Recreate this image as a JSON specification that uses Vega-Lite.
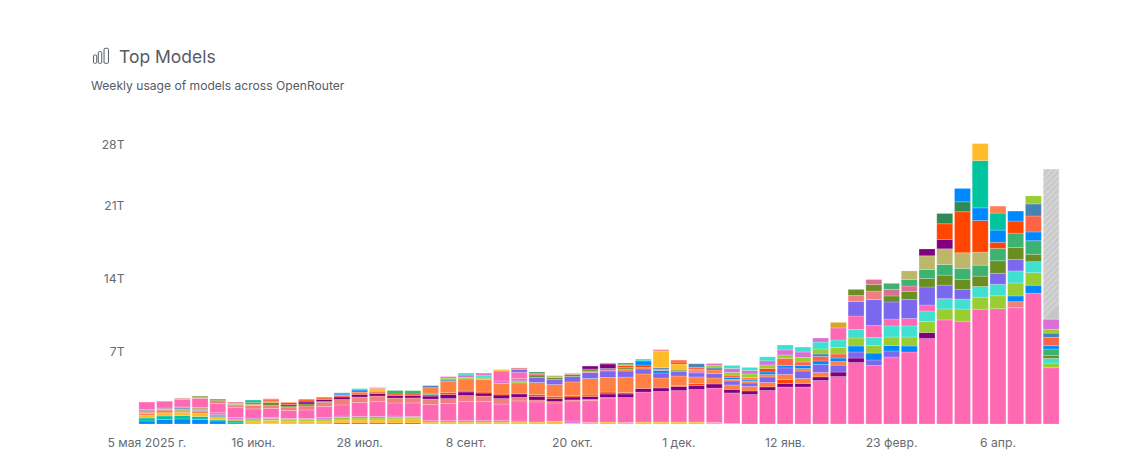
{"$schema":"https://vega.github.io/schema/vega-lite/v6.json","background":"white","autosize":{"type":"none"},"padding":{"left":138,"top":144,"right":79,"bottom":36},"width":922,"height":280,
"title":{"text":"Top Models","subtitle":"Weekly usage of models across OpenRouter","anchor":"start","frame":"group","dx":-47,"offset":-46,"font":"Inter","fontSize":17.5,"fontWeight":400,"color":"#565b66","subtitleFont":"Inter","subtitleFontSize":12.1,"subtitleColor":"#565b66","subtitlePadding":14,"encoding":{"dx":{"value":-19}}},
"config":{"view":{"stroke":null}},
"data":{"values":[
{"w":"5 мая 2025 г.","m":"blue","s":1,"v":0.29},{"w":"5 мая 2025 г.","m":"teal","s":2,"v":0.29},{"w":"5 мая 2025 г.","m":"gold","s":3,"v":0.24},{"w":"5 мая 2025 г.","m":"coral","s":4,"v":0.19},{"w":"5 мая 2025 г.","m":"lightcoral","s":5,"v":0.14},{"w":"5 мая 2025 г.","m":"gray","s":6,"v":0.24},{"w":"5 мая 2025 г.","m":"hotpink","s":7,"v":0.72},
{"w":"12 мая","m":"blue","s":1,"v":0.43},{"w":"12 мая","m":"teal","s":2,"v":0.34},{"w":"12 мая","m":"gold","s":3,"v":0.29},{"w":"12 мая","m":"coral","s":4,"v":0.1},{"w":"12 мая","m":"olive","s":5,"v":0.1},{"w":"12 мая","m":"lightcoral","s":6,"v":0.14},{"w":"12 мая","m":"gray","s":7,"v":0.14},{"w":"12 мая","m":"hotpink","s":8,"v":0.65},
{"w":"19 мая","m":"blue","s":1,"v":0.48},{"w":"19 мая","m":"teal","s":2,"v":0.34},{"w":"19 мая","m":"gold","s":3,"v":0.29},{"w":"19 мая","m":"coral","s":4,"v":0.14},{"w":"19 мая","m":"khaki","s":5,"v":0.19},{"w":"19 мая","m":"steelblue","s":6,"v":0.1},{"w":"19 мая","m":"gray","s":7,"v":0.1},{"w":"19 мая","m":"hotpink","s":8,"v":0.72},{"w":"19 мая","m":"lightcoral","s":9,"v":0.12},
{"w":"26 мая","m":"blue","s":1,"v":0.43},{"w":"26 мая","m":"teal","s":2,"v":0.29},{"w":"26 мая","m":"gold","s":3,"v":0.29},{"w":"26 мая","m":"coral","s":4,"v":0.19},{"w":"26 мая","m":"steelblue","s":5,"v":0.1},{"w":"26 мая","m":"slate","s":6,"v":0.05},{"w":"26 мая","m":"khaki","s":7,"v":0.24},{"w":"26 мая","m":"hotpink","s":8,"v":0.87},{"w":"26 мая","m":"lightcoral","s":9,"v":0.12},{"w":"26 мая","m":"olive","s":10,"v":0.1},
{"w":"2 июн.","m":"blue","s":1,"v":0.29},{"w":"2 июн.","m":"teal","s":2,"v":0.12},{"w":"2 июн.","m":"gold","s":3,"v":0.29},{"w":"2 июн.","m":"steelblue","s":4,"v":0.1},{"w":"2 июн.","m":"olive","s":5,"v":0.1},{"w":"2 июн.","m":"orchid","s":6,"v":0.19},{"w":"2 июн.","m":"hotpink","s":7,"v":0.87},{"w":"2 июн.","m":"lightcoral","s":8,"v":0.29},{"w":"2 июн.","m":"olive","s":9,"v":0.14},
{"w":"9 июн.","m":"teal","s":1,"v":0.19},{"w":"9 июн.","m":"seagreen","s":2,"v":0.1},{"w":"9 июн.","m":"khaki","s":3,"v":0.19},{"w":"9 июн.","m":"orchid","s":4,"v":0.14},{"w":"9 июн.","m":"hotpink","s":5,"v":0.96},{"w":"9 июн.","m":"lightcoral","s":6,"v":0.19},{"w":"9 июн.","m":"olive","s":7,"v":0.1},{"w":"9 июн.","m":"khaki","s":8,"v":0.14},{"w":"9 июн.","m":"palevioletred","s":9,"v":0.1},
{"w":"16 июн.","m":"gold","s":1,"v":0.29},{"w":"16 июн.","m":"yellowgreen","s":2,"v":0.19},{"w":"16 июн.","m":"orchid","s":3,"v":0.1},{"w":"16 июн.","m":"hotpink","s":4,"v":0.87},{"w":"16 июн.","m":"lightcoral","s":5,"v":0.34},{"w":"16 июн.","m":"khaki","s":6,"v":0.14},{"w":"16 июн.","m":"olive","s":7,"v":0.14},{"w":"16 июн.","m":"seagreen","s":8,"v":0.14},{"w":"16 июн.","m":"teal","s":9,"v":0.1},
{"w":"23 июн.","m":"seagreen","s":1,"v":0.05},{"w":"23 июн.","m":"gold","s":2,"v":0.29},{"w":"23 июн.","m":"yellowgreen","s":3,"v":0.19},{"w":"23 июн.","m":"orchid","s":4,"v":0.1},{"w":"23 июн.","m":"hotpink","s":5,"v":0.87},{"w":"23 июн.","m":"lightcoral","s":6,"v":0.29},{"w":"23 июн.","m":"olive","s":7,"v":0.29},{"w":"23 июн.","m":"lightcoral","s":8,"v":0.14},{"w":"23 июн.","m":"orangered","s":9,"v":0.1},{"w":"23 июн.","m":"coral","s":10,"v":0.1},
{"w":"30 июн.","m":"gold","s":1,"v":0.29},{"w":"30 июн.","m":"yellowgreen","s":2,"v":0.14},{"w":"30 июн.","m":"orchid","s":3,"v":0.1},{"w":"30 июн.","m":"hotpink","s":4,"v":0.77},{"w":"30 июн.","m":"lightcoral","s":5,"v":0.34},{"w":"30 июн.","m":"olive","s":6,"v":0.1},{"w":"30 июн.","m":"purple","s":7,"v":0.14},{"w":"30 июн.","m":"orangered","s":8,"v":0.19},
{"w":"7 июл.","m":"gold","s":1,"v":0.29},{"w":"7 июл.","m":"yellowgreen","s":2,"v":0.14},{"w":"7 июл.","m":"orchid","s":3,"v":0.1},{"w":"7 июл.","m":"hotpink","s":4,"v":0.82},{"w":"7 июл.","m":"lightcoral","s":5,"v":0.39},{"w":"7 июл.","m":"olive","s":6,"v":0.19},{"w":"7 июл.","m":"purple","s":7,"v":0.19},{"w":"7 июл.","m":"orangered","s":8,"v":0.19},{"w":"7 июл.","m":"coral","s":9,"v":0.1},
{"w":"14 июл.","m":"gold","s":1,"v":0.29},{"w":"14 июл.","m":"yellowgreen","s":2,"v":0.19},{"w":"14 июл.","m":"orchid","s":3,"v":0.14},{"w":"14 июл.","m":"hotpink","s":4,"v":1.06},{"w":"14 июл.","m":"lightcoral","s":5,"v":0.39},{"w":"14 июл.","m":"olive","s":6,"v":0.1},{"w":"14 июл.","m":"purple","s":7,"v":0.19},{"w":"14 июл.","m":"orangered","s":8,"v":0.14},{"w":"14 июл.","m":"coral","s":9,"v":0.1},
{"w":"21 июл.","m":"seagreen","s":1,"v":0.1},{"w":"21 июл.","m":"gold","s":2,"v":0.29},{"w":"21 июл.","m":"yellowgreen","s":3,"v":0.24},{"w":"21 июл.","m":"orchid","s":4,"v":0.14},{"w":"21 июл.","m":"hotpink","s":5,"v":1.06},{"w":"21 июл.","m":"lightcoral","s":6,"v":0.53},{"w":"21 июл.","m":"purple","s":7,"v":0.24},{"w":"21 июл.","m":"orangered","s":8,"v":0.1},{"w":"21 июл.","m":"coral","s":9,"v":0.1},{"w":"21 июл.","m":"blue","s":10,"v":0.1},{"w":"21 июл.","m":"steelblue","s":11,"v":0.1},
{"w":"28 июл.","m":"seagreen","s":1,"v":0.1},{"w":"28 июл.","m":"gold","s":2,"v":0.29},{"w":"28 июл.","m":"yellowgreen","s":3,"v":0.19},{"w":"28 июл.","m":"orchid","s":4,"v":0.14},{"w":"28 июл.","m":"hotpink","s":5,"v":1.35},{"w":"28 июл.","m":"lightcoral","s":6,"v":0.53},{"w":"28 июл.","m":"purple","s":7,"v":0.24},{"w":"28 июл.","m":"orangered","s":8,"v":0.14},{"w":"28 июл.","m":"coral","s":9,"v":0.1},{"w":"28 июл.","m":"blue","s":10,"v":0.19},{"w":"28 июл.","m":"turquoise","s":11,"v":0.14},
{"w":"4 авг.","m":"seagreen","s":1,"v":0.1},{"w":"4 авг.","m":"gold","s":2,"v":0.29},{"w":"4 авг.","m":"yellowgreen","s":3,"v":0.19},{"w":"4 авг.","m":"orchid","s":4,"v":0.14},{"w":"4 авг.","m":"hotpink","s":5,"v":1.44},{"w":"4 авг.","m":"lightcoral","s":6,"v":0.53},{"w":"4 авг.","m":"purple","s":7,"v":0.24},{"w":"4 авг.","m":"orangered","s":8,"v":0.14},{"w":"4 авг.","m":"coral","s":9,"v":0.1},{"w":"4 авг.","m":"gold","s":10,"v":0.24},{"w":"4 авг.","m":"lightcoral","s":11,"v":0.1},
{"w":"11 авг.","m":"seagreen","s":1,"v":0.1},{"w":"11 авг.","m":"gold","s":2,"v":0.39},{"w":"11 авг.","m":"yellowgreen","s":3,"v":0.14},{"w":"11 авг.","m":"orchid","s":4,"v":0.14},{"w":"11 авг.","m":"hotpink","s":5,"v":1.25},{"w":"11 авг.","m":"lightcoral","s":6,"v":0.48},{"w":"11 авг.","m":"purple","s":7,"v":0.24},{"w":"11 авг.","m":"orangered","s":8,"v":0.14},{"w":"11 авг.","m":"mseagreen","s":9,"v":0.34},
{"w":"18 авг.","m":"seagreen","s":1,"v":0.1},{"w":"18 авг.","m":"gold","s":2,"v":0.39},{"w":"18 авг.","m":"yellowgreen","s":3,"v":0.14},{"w":"18 авг.","m":"orchid","s":4,"v":0.1},{"w":"18 авг.","m":"hotpink","s":5,"v":1.3},{"w":"18 авг.","m":"lightcoral","s":6,"v":0.48},{"w":"18 авг.","m":"purple","s":7,"v":0.24},{"w":"18 авг.","m":"orangered","s":8,"v":0.14},{"w":"18 авг.","m":"mseagreen","s":9,"v":0.32},
{"w":"25 авг.","m":"gold","s":1,"v":0.19},{"w":"25 авг.","m":"orchid","s":2,"v":0.14},{"w":"25 авг.","m":"hotpink","s":3,"v":1.54},{"w":"25 авг.","m":"lightcoral","s":4,"v":0.53},{"w":"25 авг.","m":"purple","s":5,"v":0.29},{"w":"25 авг.","m":"orangered","s":6,"v":0.14},{"w":"25 авг.","m":"mseagreen","s":7,"v":0.14},{"w":"25 авг.","m":"coral","s":8,"v":0.53},{"w":"25 авг.","m":"steelblue","s":9,"v":0.19},
{"w":"1 сент.","m":"gold","s":1,"v":0.19},{"w":"1 сент.","m":"orchid","s":2,"v":0.14},{"w":"1 сент.","m":"hotpink","s":3,"v":1.64},{"w":"1 сент.","m":"lightcoral","s":4,"v":0.48},{"w":"1 сент.","m":"purple","s":5,"v":0.39},{"w":"1 сент.","m":"orangered","s":6,"v":0.19},{"w":"1 сент.","m":"coral","s":7,"v":1.06},{"w":"1 сент.","m":"steelblue","s":8,"v":0.14},{"w":"1 сент.","m":"yellowgreen","s":9,"v":0.19},{"w":"1 сент.","m":"orchid","s":10,"v":0.14},
{"w":"8 сент.","m":"gold","s":1,"v":0.19},{"w":"8 сент.","m":"orchid","s":2,"v":0.14},{"w":"8 сент.","m":"hotpink","s":3,"v":1.83},{"w":"8 сент.","m":"lightcoral","s":4,"v":0.58},{"w":"8 сент.","m":"purple","s":5,"v":0.34},{"w":"8 сент.","m":"orangered","s":6,"v":0.1},{"w":"8 сент.","m":"coral","s":7,"v":1.16},{"w":"8 сент.","m":"yellowgreen","s":8,"v":0.14},{"w":"8 сент.","m":"orchid","s":9,"v":0.24},{"w":"8 сент.","m":"turquoise","s":10,"v":0.19},
{"w":"15 сент.","m":"gold","s":1,"v":0.19},{"w":"15 сент.","m":"orchid","s":2,"v":0.14},{"w":"15 сент.","m":"hotpink","s":3,"v":1.83},{"w":"15 сент.","m":"lightcoral","s":4,"v":0.53},{"w":"15 сент.","m":"purple","s":5,"v":0.29},{"w":"15 сент.","m":"orangered","s":6,"v":0.1},{"w":"15 сент.","m":"coral","s":7,"v":1.2},{"w":"15 сент.","m":"yellowgreen","s":8,"v":0.14},{"w":"15 сент.","m":"orchid","s":9,"v":0.1},{"w":"15 сент.","m":"turquoise","s":10,"v":0.19},{"w":"15 сент.","m":"orchid","s":11,"v":0.19},
{"w":"22 сент.","m":"gold","s":1,"v":0.19},{"w":"22 сент.","m":"orchid","s":2,"v":0.14},{"w":"22 сент.","m":"hotpink","s":3,"v":1.59},{"w":"22 сент.","m":"lightcoral","s":4,"v":0.53},{"w":"22 сент.","m":"purple","s":5,"v":0.34},{"w":"22 сент.","m":"orangered","s":6,"v":0.1},{"w":"22 сент.","m":"coral","s":7,"v":1.01},{"w":"22 сент.","m":"orchid","s":8,"v":0.24},{"w":"22 сент.","m":"hotpink","s":9,"v":0.96},{"w":"22 сент.","m":"gold","s":10,"v":0.14},
{"w":"29 сент.","m":"gold","s":1,"v":0.19},{"w":"29 сент.","m":"orchid","s":2,"v":0.1},{"w":"29 сент.","m":"hotpink","s":3,"v":1.93},{"w":"29 сент.","m":"lightcoral","s":4,"v":0.34},{"w":"29 сент.","m":"purple","s":5,"v":0.34},{"w":"29 сент.","m":"coral","s":6,"v":1.06},{"w":"29 сент.","m":"yellowgreen","s":7,"v":0.19},{"w":"29 сент.","m":"orchid","s":8,"v":0.24},{"w":"29 сент.","m":"hotpink","s":9,"v":0.58},{"w":"29 сент.","m":"slate","s":10,"v":0.29},{"w":"29 сент.","m":"lightcoral","s":11,"v":0.14},
{"w":"6 окт.","m":"gold","s":1,"v":0.19},{"w":"6 окт.","m":"hotpink","s":2,"v":1.93},{"w":"6 окт.","m":"lightcoral","s":3,"v":0.19},{"w":"6 окт.","m":"purple","s":4,"v":0.34},{"w":"6 окт.","m":"orangered","s":5,"v":0.19},{"w":"6 окт.","m":"coral","s":6,"v":1.16},{"w":"6 окт.","m":"slate","s":7,"v":0.48},{"w":"6 окт.","m":"olive","s":8,"v":0.24},{"w":"6 окт.","m":"lightcoral","s":9,"v":0.19},{"w":"6 окт.","m":"seagreen","s":10,"v":0.1},
{"w":"13 окт.","m":"gold","s":1,"v":0.24},{"w":"13 окт.","m":"hotpink","s":2,"v":1.78},{"w":"13 окт.","m":"lightcoral","s":3,"v":0.14},{"w":"13 окт.","m":"purple","s":4,"v":0.29},{"w":"13 окт.","m":"orangered","s":5,"v":0.19},{"w":"13 окт.","m":"coral","s":6,"v":1.16},{"w":"13 окт.","m":"slate","s":7,"v":0.48},{"w":"13 окт.","m":"olive","s":8,"v":0.19},{"w":"13 окт.","m":"khaki","s":9,"v":0.19},
{"w":"20 окт.","m":"gold","s":1,"v":0.1},{"w":"20 окт.","m":"orchid","s":2,"v":0.19},{"w":"20 окт.","m":"hotpink","s":3,"v":1.93},{"w":"20 окт.","m":"lightcoral","s":4,"v":0.1},{"w":"20 окт.","m":"purple","s":5,"v":0.29},{"w":"20 окт.","m":"orangered","s":6,"v":0.14},{"w":"20 окт.","m":"coral","s":7,"v":1.3},{"w":"20 окт.","m":"slate","s":8,"v":0.53},{"w":"20 окт.","m":"olive","s":9,"v":0.19},{"w":"20 окт.","m":"lightcoral","s":10,"v":0.1},
{"w":"27 окт.","m":"gold","s":1,"v":0.14},{"w":"27 окт.","m":"hotpink","s":2,"v":2.12},{"w":"27 окт.","m":"lightcoral","s":3,"v":0.1},{"w":"27 окт.","m":"purple","s":4,"v":0.29},{"w":"27 окт.","m":"orangered","s":5,"v":0.14},{"w":"27 окт.","m":"coral","s":6,"v":1.59},{"w":"27 окт.","m":"slate","s":7,"v":0.58},{"w":"27 окт.","m":"lightcoral","s":8,"v":0.14},{"w":"27 окт.","m":"olive","s":9,"v":0.19},{"w":"27 окт.","m":"purple","s":10,"v":0.29},
{"w":"3 нояб.","m":"gold","s":1,"v":0.19},{"w":"3 нояб.","m":"hotpink","s":2,"v":2.31},{"w":"3 нояб.","m":"lightcoral","s":3,"v":0.05},{"w":"3 нояб.","m":"purple","s":4,"v":0.34},{"w":"3 нояб.","m":"orangered","s":5,"v":0.19},{"w":"3 нояб.","m":"coral","s":6,"v":1.4},{"w":"3 нояб.","m":"slate","s":7,"v":0.63},{"w":"3 нояб.","m":"orchid","s":8,"v":0.1},{"w":"3 нояб.","m":"olive","s":9,"v":0.14},{"w":"3 нояб.","m":"purple","s":10,"v":0.43},{"w":"3 нояб.","m":"lightcoral","s":11,"v":0.1},
{"w":"10 нояб.","m":"gold","s":1,"v":0.14},{"w":"10 нояб.","m":"hotpink","s":2,"v":2.41},{"w":"10 нояб.","m":"purple","s":3,"v":0.34},{"w":"10 нояб.","m":"orangered","s":4,"v":0.14},{"w":"10 нояб.","m":"coral","s":5,"v":1.49},{"w":"10 нояб.","m":"slate","s":6,"v":0.58},{"w":"10 нояб.","m":"coral","s":7,"v":0.19},{"w":"10 нояб.","m":"olive","s":8,"v":0.14},{"w":"10 нояб.","m":"orangered","s":9,"v":0.19},{"w":"10 нояб.","m":"coral","s":10,"v":0.1},{"w":"10 нояб.","m":"seagreen","s":11,"v":0.14},
{"w":"17 нояб.","m":"gold","s":1,"v":0.19},{"w":"17 нояб.","m":"hotpink","s":2,"v":2.89},{"w":"17 нояб.","m":"purple","s":3,"v":0.34},{"w":"17 нояб.","m":"coral","s":4,"v":1.4},{"w":"17 нояб.","m":"slate","s":5,"v":0.48},{"w":"17 нояб.","m":"coral","s":6,"v":0.14},{"w":"17 нояб.","m":"orangered","s":7,"v":0.24},{"w":"17 нояб.","m":"blue","s":8,"v":0.39},{"w":"17 нояб.","m":"turquoise","s":9,"v":0.19},
{"w":"24 нояб.","m":"gold","s":1,"v":0.19},{"w":"24 нояб.","m":"hotpink","s":2,"v":2.94},{"w":"24 нояб.","m":"purple","s":3,"v":0.34},{"w":"24 нояб.","m":"coral","s":4,"v":0.96},{"w":"24 нояб.","m":"slate","s":5,"v":0.48},{"w":"24 нояб.","m":"blue","s":6,"v":0.24},{"w":"24 нояб.","m":"coral","s":7,"v":0.14},{"w":"24 нояб.","m":"steelblue","s":8,"v":0.14},{"w":"24 нояб.","m":"gold","s":9,"v":1.59},{"w":"24 нояб.","m":"lightcoral","s":10,"v":0.14},
{"w":"1 дек.","m":"gold","s":1,"v":0.19},{"w":"1 дек.","m":"hotpink","s":2,"v":3.03},{"w":"1 дек.","m":"purple","s":3,"v":0.39},{"w":"1 дек.","m":"orangered","s":4,"v":0.1},{"w":"1 дек.","m":"coral","s":5,"v":0.91},{"w":"1 дек.","m":"slate","s":6,"v":0.43},{"w":"1 дек.","m":"olive","s":7,"v":0.14},{"w":"1 дек.","m":"gold","s":8,"v":0.58},{"w":"1 дек.","m":"orangered","s":9,"v":0.19},{"w":"1 дек.","m":"tomato","s":10,"v":0.19},
{"w":"8 дек.","m":"gold","s":1,"v":0.19},{"w":"8 дек.","m":"hotpink","s":2,"v":3.13},{"w":"8 дек.","m":"purple","s":3,"v":0.39},{"w":"8 дек.","m":"orangered","s":4,"v":0.19},{"w":"8 дек.","m":"coral","s":5,"v":0.63},{"w":"8 дек.","m":"slate","s":6,"v":0.39},{"w":"8 дек.","m":"orchid","s":7,"v":0.19},{"w":"8 дек.","m":"coral","s":8,"v":0.14},{"w":"8 дек.","m":"tomato","s":9,"v":0.21},{"w":"8 дек.","m":"steelblue","s":10,"v":0.34},
{"w":"15 дек.","m":"gold","s":1,"v":0.14},{"w":"15 дек.","m":"hotpink","s":2,"v":3.32},{"w":"15 дек.","m":"purple","s":3,"v":0.39},{"w":"15 дек.","m":"coral","s":4,"v":0.58},{"w":"15 дек.","m":"slate","s":5,"v":0.43},{"w":"15 дек.","m":"coral","s":6,"v":0.34},{"w":"15 дек.","m":"steelblue","s":7,"v":0.19},{"w":"15 дек.","m":"yellowgreen","s":8,"v":0.24},{"w":"15 дек.","m":"orchid","s":9,"v":0.19},
{"w":"22 дек.","m":"gold","s":1,"v":0.05},{"w":"22 дек.","m":"hotpink","s":2,"v":2.94},{"w":"22 дек.","m":"purple","s":3,"v":0.34},{"w":"22 дек.","m":"coral","s":4,"v":0.43},{"w":"22 дек.","m":"slate","s":5,"v":0.39},{"w":"22 дек.","m":"coral","s":6,"v":0.14},{"w":"22 дек.","m":"blue","s":7,"v":0.19},{"w":"22 дек.","m":"orangered","s":8,"v":0.14},{"w":"22 дек.","m":"yellowgreen","s":9,"v":0.34},{"w":"22 дек.","m":"orchid","s":10,"v":0.39},{"w":"22 дек.","m":"turquoise","s":11,"v":0.29},
{"w":"29 дек.","m":"hotpink","s":1,"v":2.84},{"w":"29 дек.","m":"purple","s":2,"v":0.34},{"w":"29 дек.","m":"coral","s":3,"v":0.43},{"w":"29 дек.","m":"slate","s":4,"v":0.34},{"w":"29 дек.","m":"coral","s":5,"v":0.19},{"w":"29 дек.","m":"blue","s":6,"v":0.1},{"w":"29 дек.","m":"coral","s":7,"v":0.24},{"w":"29 дек.","m":"yellowgreen","s":8,"v":0.34},{"w":"29 дек.","m":"orchid","s":9,"v":0.34},{"w":"29 дек.","m":"turquoise","s":10,"v":0.29},
{"w":"5 янв.","m":"hotpink","s":1,"v":3.23},{"w":"5 янв.","m":"purple","s":2,"v":0.34},{"w":"5 янв.","m":"coral","s":3,"v":0.43},{"w":"5 янв.","m":"slate","s":4,"v":0.53},{"w":"5 янв.","m":"coral","s":5,"v":0.24},{"w":"5 янв.","m":"blue","s":6,"v":0.24},{"w":"5 янв.","m":"orangered","s":7,"v":0.34},{"w":"5 янв.","m":"yellowgreen","s":8,"v":0.34},{"w":"5 янв.","m":"orchid","s":9,"v":0.39},{"w":"5 янв.","m":"turquoise","s":10,"v":0.39},
{"w":"12 янв.","m":"hotpink","s":1,"v":3.56},{"w":"12 янв.","m":"purple","s":2,"v":0.34},{"w":"12 янв.","m":"orangered","s":3,"v":0.39},{"w":"12 янв.","m":"coral","s":4,"v":0.48},{"w":"12 янв.","m":"slate","s":5,"v":0.63},{"w":"12 янв.","m":"blue","s":6,"v":0.24},{"w":"12 янв.","m":"tomato","s":7,"v":0.67},{"w":"12 янв.","m":"yellowgreen","s":8,"v":0.34},{"w":"12 янв.","m":"orchid","s":9,"v":0.48},{"w":"12 янв.","m":"turquoise","s":10,"v":0.48},
{"w":"19 янв.","m":"hotpink","s":1,"v":3.56},{"w":"19 янв.","m":"purple","s":2,"v":0.34},{"w":"19 янв.","m":"coral","s":3,"v":0.48},{"w":"19 янв.","m":"slate","s":4,"v":0.72},{"w":"19 янв.","m":"coral","s":5,"v":0.24},{"w":"19 янв.","m":"blue","s":6,"v":0.29},{"w":"19 янв.","m":"tomato","s":7,"v":0.34},{"w":"19 янв.","m":"yellowgreen","s":8,"v":0.43},{"w":"19 янв.","m":"orchid","s":9,"v":0.53},{"w":"19 янв.","m":"turquoise","s":10,"v":0.48},
{"w":"26 янв.","m":"hotpink","s":1,"v":4.19},{"w":"26 янв.","m":"purple","s":2,"v":0.34},{"w":"26 янв.","m":"coral","s":3,"v":0.43},{"w":"26 янв.","m":"slate","s":4,"v":0.77},{"w":"26 янв.","m":"blue","s":5,"v":0.34},{"w":"26 янв.","m":"tomato","s":6,"v":0.43},{"w":"26 янв.","m":"steelblue","s":7,"v":0.24},{"w":"26 янв.","m":"yellowgreen","s":8,"v":0.48},{"w":"26 янв.","m":"turquoise","s":9,"v":0.67},{"w":"26 янв.","m":"orchid","s":10,"v":0.39},
{"w":"2 февр.","m":"hotpink","s":1,"v":4.57},{"w":"2 февр.","m":"purple","s":2,"v":0.43},{"w":"2 февр.","m":"slate","s":3,"v":0.67},{"w":"2 февр.","m":"coral","s":4,"v":0.34},{"w":"2 февр.","m":"blue","s":5,"v":0.34},{"w":"2 февр.","m":"tomato","s":6,"v":0.39},{"w":"2 февр.","m":"yellowgreen","s":7,"v":0.63},{"w":"2 февр.","m":"turquoise","s":8,"v":0.72},{"w":"2 февр.","m":"hotpink","s":9,"v":1.16},{"w":"2 февр.","m":"goldenrod","s":10,"v":0.53},
{"w":"9 февр.","m":"hotpink","s":1,"v":5.92},{"w":"9 февр.","m":"purple","s":2,"v":0.43},{"w":"9 февр.","m":"slate","s":3,"v":0.58},{"w":"9 февр.","m":"blue","s":4,"v":0.58},{"w":"9 февр.","m":"yellowgreen","s":5,"v":0.77},{"w":"9 февр.","m":"turquoise","s":6,"v":0.82},{"w":"9 февр.","m":"hotpink","s":7,"v":1.3},{"w":"9 февр.","m":"slate","s":8,"v":1.4},{"w":"9 февр.","m":"lightcoral","s":9,"v":0.58},{"w":"9 февр.","m":"olive","s":10,"v":0.58},
{"w":"16 февр.","m":"hotpink","s":1,"v":5.63},{"w":"16 февр.","m":"slate","s":2,"v":0.53},{"w":"16 февр.","m":"blue","s":3,"v":0.67},{"w":"16 февр.","m":"yellowgreen","s":4,"v":0.72},{"w":"16 февр.","m":"turquoise","s":5,"v":0.77},{"w":"16 февр.","m":"hotpink","s":6,"v":1.16},{"w":"16 февр.","m":"slate","s":7,"v":2.5},{"w":"16 февр.","m":"lightcoral","s":8,"v":0.82},{"w":"16 февр.","m":"olive","s":9,"v":0.63},{"w":"16 февр.","m":"palevioletred","s":10,"v":0.48},
{"w":"23 февр.","m":"hotpink","s":1,"v":6.45},{"w":"23 февр.","m":"slate","s":2,"v":0.58},{"w":"23 февр.","m":"blue","s":3,"v":0.53},{"w":"23 февр.","m":"yellowgreen","s":4,"v":0.82},{"w":"23 февр.","m":"turquoise","s":5,"v":1.06},{"w":"23 февр.","m":"hotpink","s":6,"v":0.67},{"w":"23 февр.","m":"slate","s":7,"v":1.64},{"w":"23 февр.","m":"olive","s":8,"v":0.58},{"w":"23 февр.","m":"palevioletred","s":9,"v":0.63},{"w":"23 февр.","m":"mseagreen","s":10,"v":0.58},
{"w":"2 мар.","m":"hotpink","s":1,"v":6.93},{"w":"2 мар.","m":"blue","s":2,"v":0.58},{"w":"2 мар.","m":"yellowgreen","s":3,"v":0.87},{"w":"2 мар.","m":"turquoise","s":4,"v":1.06},{"w":"2 мар.","m":"hotpink","s":5,"v":0.72},{"w":"2 мар.","m":"slate","s":6,"v":1.83},{"w":"2 мар.","m":"olive","s":7,"v":0.77},{"w":"2 мар.","m":"palevioletred","s":8,"v":0.53},{"w":"2 мар.","m":"mseagreen","s":9,"v":0.63},{"w":"2 мар.","m":"khaki","s":10,"v":0.82},
{"w":"9 мар.","m":"hotpink","s":1,"v":8.23},{"w":"9 мар.","m":"purple","s":2,"v":0.58},{"w":"9 мар.","m":"yellowgreen","s":3,"v":1.06},{"w":"9 мар.","m":"turquoise","s":4,"v":1.01},{"w":"9 мар.","m":"hotpink","s":5,"v":0.58},{"w":"9 мар.","m":"slate","s":6,"v":1.73},{"w":"9 мар.","m":"olive","s":7,"v":0.82},{"w":"9 мар.","m":"mseagreen","s":8,"v":0.87},{"w":"9 мар.","m":"khaki","s":9,"v":1.32},{"w":"9 мар.","m":"purple","s":10,"v":0.65},
{"w":"16 мар.","m":"hotpink","s":1,"v":10.02},{"w":"16 мар.","m":"yellowgreen","s":2,"v":1.06},{"w":"16 мар.","m":"turquoise","s":3,"v":0.99},{"w":"16 мар.","m":"slate","s":4,"v":1.3},{"w":"16 мар.","m":"olive","s":5,"v":0.96},{"w":"16 мар.","m":"mseagreen","s":6,"v":1.03},{"w":"16 мар.","m":"khaki","s":7,"v":1.51},{"w":"16 мар.","m":"purple","s":8,"v":0.9},{"w":"16 мар.","m":"orangered","s":9,"v":1.51},{"w":"16 мар.","m":"seagreen","s":10,"v":0.99},
{"w":"23 мар.","m":"hotpink","s":1,"v":9.89},{"w":"23 мар.","m":"yellowgreen","s":2,"v":1.18},{"w":"23 мар.","m":"turquoise","s":3,"v":0.96},{"w":"23 мар.","m":"slate","s":4,"v":0.93},{"w":"23 мар.","m":"olive","s":5,"v":0.96},{"w":"23 мар.","m":"mseagreen","s":6,"v":1.06},{"w":"23 мар.","m":"khaki","s":7,"v":1.51},{"w":"23 мар.","m":"orangered","s":8,"v":3.95},{"w":"23 мар.","m":"seagreen","s":9,"v":0.96},{"w":"23 мар.","m":"blue","s":10,"v":1.28},
{"w":"30 мар.","m":"hotpink","s":1,"v":11.05},{"w":"30 мар.","m":"yellowgreen","s":2,"v":1.16},{"w":"30 мар.","m":"turquoise","s":3,"v":1.03},{"w":"30 мар.","m":"olive","s":4,"v":0.99},{"w":"30 мар.","m":"mseagreen","s":5,"v":1.06},{"w":"30 мар.","m":"khaki","s":6,"v":1.25},{"w":"30 мар.","m":"orangered","s":7,"v":3.05},{"w":"30 мар.","m":"blue","s":8,"v":1.22},{"w":"30 мар.","m":"teal","s":9,"v":4.55},{"w":"30 мар.","m":"gold","s":10,"v":1.64},
{"w":"6 апр.","m":"hotpink","s":1,"v":11.1},{"w":"6 апр.","m":"yellowgreen","s":2,"v":1.25},{"w":"6 апр.","m":"turquoise","s":3,"v":1.1},{"w":"6 апр.","m":"slate","s":4,"v":1.06},{"w":"6 апр.","m":"olive","s":5,"v":1.21},{"w":"6 апр.","m":"mseagreen","s":6,"v":1.19},{"w":"6 апр.","m":"orangered","s":7,"v":0.58},{"w":"6 апр.","m":"blue","s":8,"v":1.18},{"w":"6 апр.","m":"teal","s":9,"v":1.64},{"w":"6 апр.","m":"coral2","s":10,"v":0.67},
{"w":"13 апр.","m":"hotpink","s":1,"v":11.2},{"w":"13 апр.","m":"lightcoral","s":2,"v":0.58},{"w":"13 апр.","m":"blue","s":3,"v":0.55},{"w":"13 апр.","m":"yellowgreen","s":4,"v":1.25},{"w":"13 апр.","m":"turquoise","s":5,"v":1.16},{"w":"13 апр.","m":"slate","s":6,"v":1.1},{"w":"13 апр.","m":"olive","s":7,"v":1.16},{"w":"13 апр.","m":"mseagreen","s":8,"v":1.38},{"w":"13 апр.","m":"orangered","s":9,"v":1.16},{"w":"13 апр.","m":"blue","s":10,"v":0.96},
{"w":"20 апр.","m":"hotpink","s":1,"v":12.59},{"w":"20 апр.","m":"blue","s":2,"v":0.77},{"w":"20 апр.","m":"yellowgreen","s":3,"v":1.21},{"w":"20 апр.","m":"turquoise","s":4,"v":1.06},{"w":"20 апр.","m":"olive","s":5,"v":0.71},{"w":"20 апр.","m":"mseagreen","s":6,"v":1.31},{"w":"20 апр.","m":"blue","s":7,"v":0.84},{"w":"20 апр.","m":"tomato","s":8,"v":1.54},{"w":"20 апр.","m":"steelblue","s":9,"v":1.16},{"w":"20 апр.","m":"yellowgreen","s":10,"v":0.77},
{"w":"27 апр.","m":"hotpink","s":1,"v":5.42},{"w":"27 апр.","m":"yellowgreen","s":2,"v":0.45},{"w":"27 апр.","m":"turquoise","s":3,"v":0.45},{"w":"27 апр.","m":"olive","s":4,"v":0.29},{"w":"27 апр.","m":"mseagreen","s":5,"v":0.61},{"w":"27 апр.","m":"blue","s":6,"v":0.32},{"w":"27 апр.","m":"tomato","s":7,"v":0.8},{"w":"27 апр.","m":"steelblue","s":8,"v":0.41},{"w":"27 апр.","m":"yellowgreen","s":9,"v":0.36},{"w":"27 апр.","m":"orchid","s":10,"v":0.99},{"w":"27 апр.","m":"others","s":11,"v":14.45}
]},
"transform":[{"stack":"v","groupby":["w"],"sort":[{"field":"s","order":"ascending"}],"as":["y0","y1"]}],
"encoding":{
"x":{"field":"w","type":"ordinal","title":null,"scale":{"type":"band","domain":["5 мая 2025 г.","12 мая","19 мая","26 мая","2 июн.","9 июн.","16 июн.","23 июн.","30 июн.","7 июл.","14 июл.","21 июл.","28 июл.","4 авг.","11 авг.","18 авг.","25 авг.","1 сент.","8 сент.","15 сент.","22 сент.","29 сент.","6 окт.","13 окт.","20 окт.","27 окт.","3 нояб.","10 нояб.","17 нояб.","24 нояб.","1 дек.","8 дек.","15 дек.","22 дек.","29 дек.","5 янв.","12 янв.","19 янв.","26 янв.","2 февр.","9 февр.","16 февр.","23 февр.","2 мар.","9 мар.","16 мар.","23 мар.","30 мар.","6 апр.","13 апр.","20 апр.","27 апр."],"paddingInner":0.1,"paddingOuter":0.05},"axis":{"values":["5 мая 2025 г.","16 июн.","28 июл.","8 сент.","20 окт.","1 дек.","12 янв.","23 февр.","6 апр."],"labelAngle":0,"labelFont":"Inter","labelFontSize":12.2,"labelColor":"#666b73","labelPadding":12,"labelOverlap":false,"labelBound":false,"labelFlush":false,"domain":false,"ticks":false,"grid":false}},
"y":{"field":"y0","type":"quantitative","title":null,"scale":{"domain":[0,26.96],"nice":false,"zero":true},"axis":{"values":[7,14,21,26.96],"labelExpr":"datum.value>26?'28T':datum.value+'T'","labelFont":"Inter","labelFontSize":12.2,"labelColor":"#666b73","labelPadding":14,"domain":false,"ticks":false,"grid":false}},
"y2":{"field":"y1"}
},
"layer":[
{"transform":[{"filter":"datum.m!=='others'"}],"mark":{"type":"bar","stroke":"white","strokeWidth":1,"strokeOpacity":0.2},"encoding":{"color":{"field":"m","type":"nominal","legend":null,"scale":{"domain":["hotpink","blue","teal","gold","coral","coral2","lightcoral","khaki","gray","yellowgreen","turquoise","slate","olive","mseagreen","purple","orangered","seagreen","tomato","steelblue","orchid","palevioletred","goldenrod"],"range":["#FF69B4","#0088FE","#00C49F","#FFBB28","#FF8042","#FF7F50","#F08080","#BDB76B","#A9A9A9","#9ACD32","#40E0D0","#7B68EE","#6B8E23","#3CB371","#800080","#FF4500","#2E8B57","#FF6347","#4682B4","#DA70D6","#DB7093","#DAA520"]}}}},
{"transform":[{"filter":"datum.m==='others'"}],"mark":{"type":"bar","stroke":"white","strokeWidth":1,"strokeOpacity":0.35,"fill":{"gradient":"linear","x1":0,"y1":0,"x2":0.107,"y2":1,"stops":[{"offset":0,"color":"#c6c6c6"},{"offset":0.02,"color":"#d6d6d6"},{"offset":0.04,"color":"#c6c6c6"},{"offset":0.06,"color":"#d6d6d6"},{"offset":0.08,"color":"#c6c6c6"},{"offset":0.1,"color":"#d6d6d6"},{"offset":0.12,"color":"#c6c6c6"},{"offset":0.14,"color":"#d6d6d6"},{"offset":0.16,"color":"#c6c6c6"},{"offset":0.18,"color":"#d6d6d6"},{"offset":0.2,"color":"#c6c6c6"},{"offset":0.22,"color":"#d6d6d6"},{"offset":0.24,"color":"#c6c6c6"},{"offset":0.26,"color":"#d6d6d6"},{"offset":0.28,"color":"#c6c6c6"},{"offset":0.3,"color":"#d6d6d6"},{"offset":0.32,"color":"#c6c6c6"},{"offset":0.34,"color":"#d6d6d6"},{"offset":0.36,"color":"#c6c6c6"},{"offset":0.38,"color":"#d6d6d6"},{"offset":0.4,"color":"#c6c6c6"},{"offset":0.42,"color":"#d6d6d6"},{"offset":0.44,"color":"#c6c6c6"},{"offset":0.46,"color":"#d6d6d6"},{"offset":0.48,"color":"#c6c6c6"},{"offset":0.5,"color":"#d6d6d6"},{"offset":0.52,"color":"#c6c6c6"},{"offset":0.54,"color":"#d6d6d6"},{"offset":0.56,"color":"#c6c6c6"},{"offset":0.58,"color":"#d6d6d6"},{"offset":0.6,"color":"#c6c6c6"},{"offset":0.62,"color":"#d6d6d6"},{"offset":0.64,"color":"#c6c6c6"},{"offset":0.66,"color":"#d6d6d6"},{"offset":0.68,"color":"#c6c6c6"},{"offset":0.7,"color":"#d6d6d6"},{"offset":0.72,"color":"#c6c6c6"},{"offset":0.74,"color":"#d6d6d6"},{"offset":0.76,"color":"#c6c6c6"},{"offset":0.78,"color":"#d6d6d6"},{"offset":0.8,"color":"#c6c6c6"},{"offset":0.82,"color":"#d6d6d6"},{"offset":0.84,"color":"#c6c6c6"},{"offset":0.86,"color":"#d6d6d6"},{"offset":0.88,"color":"#c6c6c6"},{"offset":0.9,"color":"#d6d6d6"},{"offset":0.92,"color":"#c6c6c6"},{"offset":0.94,"color":"#d6d6d6"},{"offset":0.96,"color":"#c6c6c6"},{"offset":0.98,"color":"#d6d6d6"},{"offset":1,"color":"#c6c6c6"}]}}},
{"data":{"values":[{"icon":"bars"}]},"transform":[],"mark":{"type":"point","filled":false,"size":4,"stroke":"#565b66","strokeWidth":1,"opacity":1,"clip":false,"shape":"M-6.2 -1H-5Q-4 -1 -4 0V6.3Q-4 7.3 -5 7.3H-6.2Q-7.2 7.3 -7.2 6.3V0Q-7.2 -1 -6.2 -1ZM-1.5 -4.3H0Q1 -4.3 1 -3.3V6.3Q1 7.3 0 7.3H-1.5Q-2.5 7.3 -2.5 6.3V-3.3Q-2.5 -4.3 -1.5 -4.3ZM4.3 -7.7H6.7Q7.7 -7.7 7.7 -6.7V6.3Q7.7 7.3 6.7 7.3H4.3Q3.3 7.3 3.3 6.3V-6.7Q3.3 -7.7 4.3 -7.7Z"},"encoding":{"x":{"value":-37.25},"y":{"value":-88},"y2":null}}
]}
